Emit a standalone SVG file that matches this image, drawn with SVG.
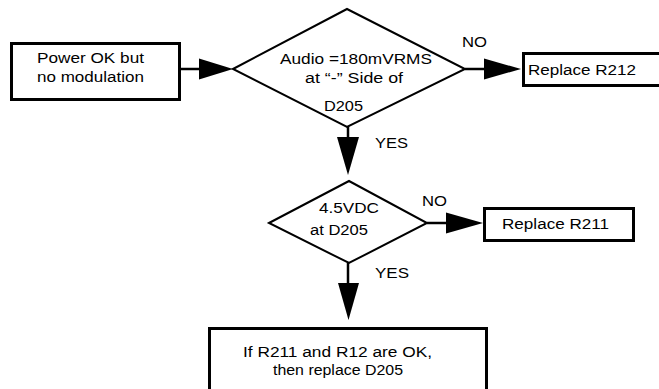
<svg xmlns="http://www.w3.org/2000/svg" width="659" height="389" viewBox="0 0 659 389">
<style>
  .box { fill: #fff; stroke: #000; stroke-width: 3; }
  .dia { fill: #fff; stroke: #000; stroke-width: 2; }
  .line { stroke: #000; stroke-width: 2.5; fill: none; }
  .head { fill: #000; stroke: none; }
  text { font-family: "Liberation Sans", Arial, sans-serif; font-size: 15.5px; fill: #000; }
</style>
<rect width="659" height="389" fill="#fff"/>
<g id="connectors">
  <line class="line" x1="181" y1="69" x2="200" y2="69"/>
  <polygon class="head" points="199,58.5 233,69 199,79.5"/>
  <line class="line" x1="465" y1="69" x2="485" y2="69"/>
  <polygon class="head" points="484,58.5 521,69 484,79.5"/>
  <line class="line" x1="348" y1="126" x2="348" y2="138"/>
  <polygon class="head" points="337,137 359,137 348,175"/>
  <line class="line" x1="427" y1="223" x2="447" y2="223"/>
  <polygon class="head" points="446,212.5 483,223 446,233.5"/>
  <line class="line" x1="348" y1="263" x2="348" y2="284"/>
  <polygon class="head" points="338,283 359,283 348.5,320"/>
  <text x="462" y="47" textLength="25" lengthAdjust="spacingAndGlyphs">NO</text>
  <text x="375" y="148" textLength="33" lengthAdjust="spacingAndGlyphs">YES</text>
  <text x="422" y="206" textLength="25" lengthAdjust="spacingAndGlyphs">NO</text>
  <text x="375" y="278" textLength="34" lengthAdjust="spacingAndGlyphs">YES</text>
</g>
<g id="start">
  <rect class="box" x="11.5" y="43.5" width="168" height="56"/>
  <text x="37" y="63" textLength="107" lengthAdjust="spacingAndGlyphs">Power OK but</text>
  <text x="37" y="82" textLength="107" lengthAdjust="spacingAndGlyphs">no modulation</text>
</g>
<g id="decision1">
  <polygon class="dia" points="233,69 347,9 465,69 347,127"/>
  <text x="280" y="64" textLength="152" lengthAdjust="spacingAndGlyphs">Audio =180mVRMS</text>
  <text x="305" y="83" textLength="98" lengthAdjust="spacingAndGlyphs">at “-” Side of</text>
  <text x="324" y="111" textLength="39" lengthAdjust="spacingAndGlyphs">D205</text>
</g>
<g id="replaceR212">
  <rect class="box" x="523.5" y="53.5" width="150" height="32"/>
  <text x="528" y="75" textLength="108" lengthAdjust="spacingAndGlyphs">Replace R212</text>
</g>
<g id="decision2">
  <polygon class="dia" points="269,223 349,181 427,223 349,263"/>
  <text x="319" y="213" textLength="60" lengthAdjust="spacingAndGlyphs">4.5VDC</text>
  <text x="310" y="235" textLength="58" lengthAdjust="spacingAndGlyphs">at D205</text>
</g>
<g id="replaceR211">
  <rect class="box" x="484.5" y="208.5" width="149" height="32"/>
  <text x="502" y="229" textLength="107" lengthAdjust="spacingAndGlyphs">Replace R211</text>
</g>
<g id="final">
  <rect class="box" x="209.5" y="328.5" width="277" height="80"/>
  <text x="243" y="357" textLength="189" lengthAdjust="spacingAndGlyphs">If R211 and R12 are OK,</text>
  <text x="273" y="375" textLength="130" lengthAdjust="spacingAndGlyphs">then replace D205</text>
</g>
</svg>
